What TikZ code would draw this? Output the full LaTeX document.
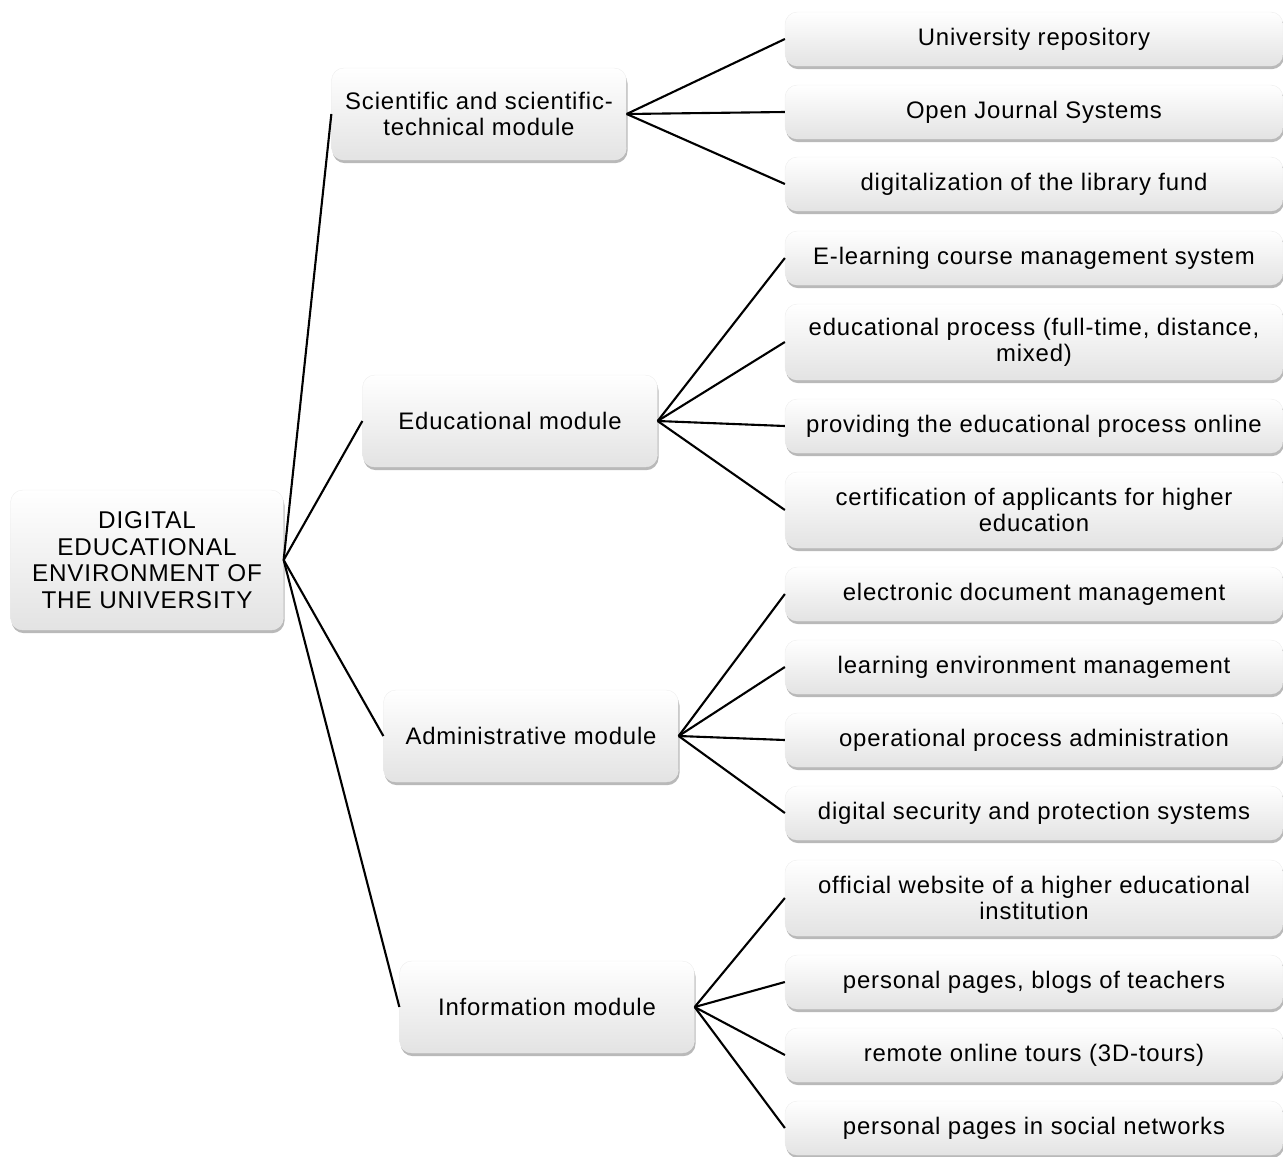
\documentclass[tikz,border=0pt]{standalone}
\usepackage{fontspec}
\setmainfont{Liberation Sans}[LetterSpace=3.5]
\usetikzlibrary{shadows}

\tikzset{
  box/.style={rounded corners=7pt, top color=white, bottom color=gray!22,
    draw=gray!15, line width=0.2pt,
    drop shadow={shadow xshift=0.6pt, shadow yshift=-1.8pt, opacity=0.55},
    align=center, inner sep=2pt, font=\fontsize{13.6}{14.8}\selectfont},
  modbox/.style={box, minimum width=5.9cm, minimum height=1.84cm},
  leaf/.style={box, minimum width=9.96cm},
  link/.style={line width=1.2pt}
}

\begin{document}
\begin{tikzpicture}[x=0.02cm, y=-0.02cm]
  \useasboundingbox (0,0) rectangle (1283,1156);
  % root and modules
  \node[box, minimum width=5.46cm, minimum height=2.8cm,
    font=\fontsize{13.8}{15.2}\selectfont] (root) at (147,560)
    {DIGITAL\\EDUCATIONAL\\ENVIRONMENT OF\\THE UNIVERSITY};
  \node[modbox] (sci) at (479,114) {Scientific and scientific-\\technical module};
  \node[modbox] (edu) at (510,421) {Educational module};
  \node[modbox] (adm) at (531,736) {Administrative module};
  \node[modbox] (inf) at (547,1007) {Information module};
  % leaves
  \foreach \name/\y/\h/\txt in {
    rep/39/1.08/University repository,
    ojs/112/1.08/Open Journal Systems,
    lib/184/1.08/digitalization of the library fund,
    elc/258/1.08/E-learning course management system,
    edp/342/1.52/{educational process (full-time, distance,\\mixed)},
    onl/426/1.08/providing the educational process online,
    cer/510/1.52/{certification of applicants for higher\\education},
    doc/594/1.08/electronic document management,
    env/667/1.08/learning environment management,
    ops/740/1.08/operational process administration,
    sec/813/1.08/digital security and protection systems,
    web/898/1.52/{official website of a higher educational\\institution},
    blg/982/1.08/{personal pages, blogs of teachers},
    tou/1055/1.08/remote online tours (3D-tours),
    soc/1128/1.08/personal pages in social networks} {
    \node[leaf, minimum height=\h cm] (\name) at (1034,\y) {\txt};
  }
  % connectors
  \foreach \m in {sci, edu, adm, inf}
    \draw[link] (root.east) -- (\m.west);
  \foreach \a/\b in {sci/rep, sci/ojs, sci/lib, edu/elc, edu/edp, edu/onl, edu/cer,
      adm/doc, adm/env, adm/ops, adm/sec, inf/web, inf/blg, inf/tou, inf/soc}
    \draw[link] (\a.east) -- (\b.west);
\end{tikzpicture}
\end{document}
